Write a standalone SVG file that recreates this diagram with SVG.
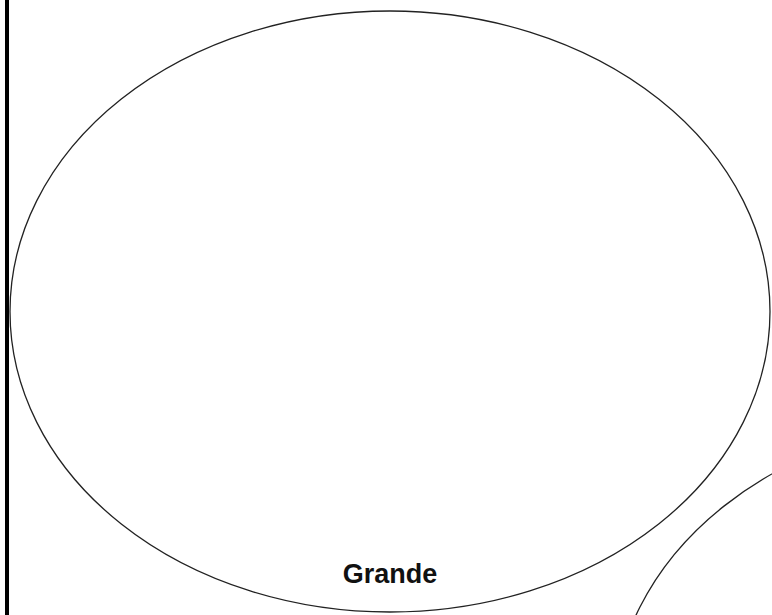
<svg xmlns="http://www.w3.org/2000/svg" width="772" height="615" viewBox="0 0 772 615">
<style>
.shape{fill:none;stroke:#222;stroke-width:1.3}
.lbl{font-family:"Liberation Sans",Arial,sans-serif;font-weight:bold;font-size:27px;fill:#111;text-anchor:middle}
</style>
<rect width="772" height="615" fill="#fff"/>
<g id="bar"><line x1="7" y1="0" x2="7" y2="615" stroke="#000" stroke-width="4"/></g>
<g id="grande">
<ellipse class="shape" cx="390" cy="311.5" rx="380" ry="300.5"/>
<text class="lbl" x="390" y="583">Grande</text>
</g>
<g id="other">
<ellipse class="shape" cx="993" cy="718" rx="380" ry="300"/>
</g>
<g id="connectors"></g>
</svg>
